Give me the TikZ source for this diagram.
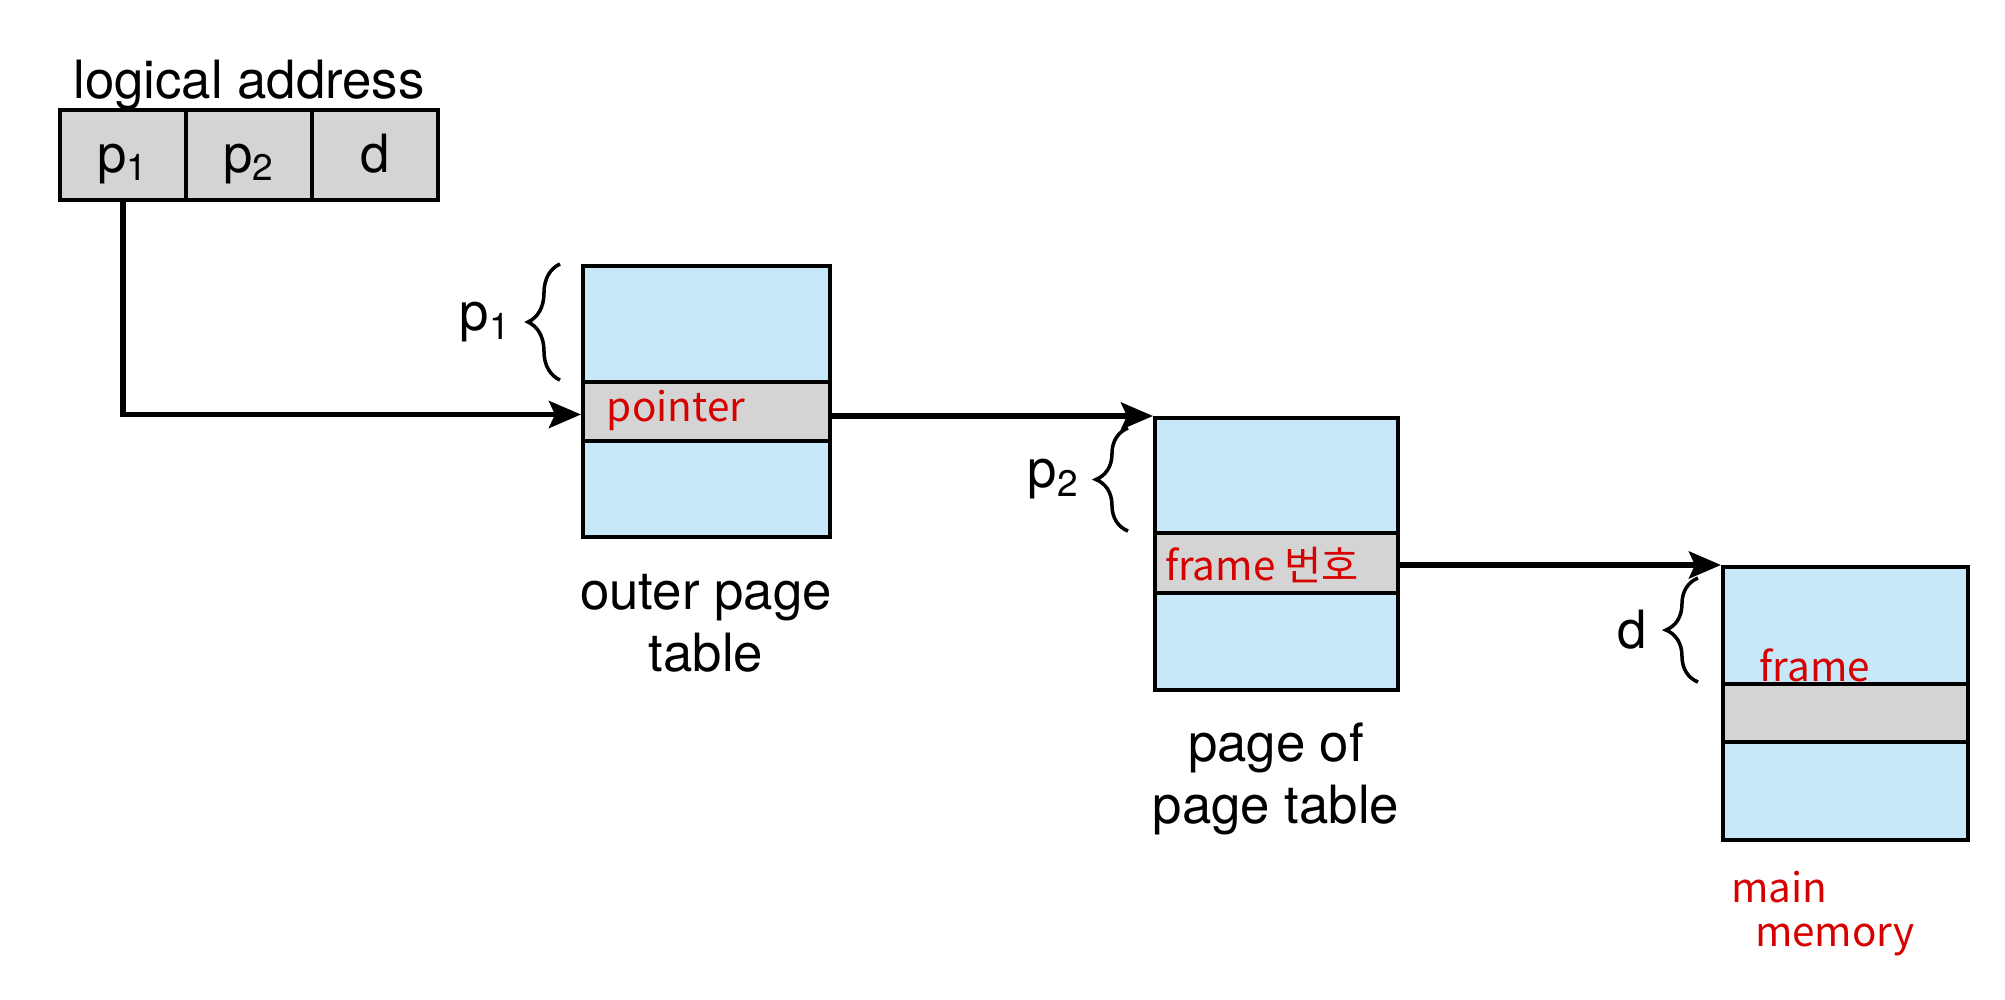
\documentclass[tikz,border=0pt]{standalone}
\usepackage{fontspec}
\setmainfont{TeX Gyre Heros}
\newfontfamily\cjk{Noto Sans CJK KR}
\usetikzlibrary{arrows.meta,positioning,decorations.pathreplacing,calc}
\definecolor{tblue}{RGB}{199,232,248}
\definecolor{tgray}{RGB}{212,212,212}
\definecolor{inkred}{RGB}{215,0,0}

\begin{document}
\begin{tikzpicture}[
  x=0.01cm, y=-0.01cm,
  font=\fontsize{15}{17.6}\selectfont,
  cell/.style={draw, line width=1.1pt, fill=tgray, minimum width=1.26cm, minimum height=0.9cm, inner sep=0pt, text height=0.40cm, text depth=0.06cm},
  pagebox/.style={draw, line width=1.1pt, fill=tblue, minimum width=2.47cm, minimum height=2.71cm, inner sep=0pt},
  entry/.style={draw, line width=1.1pt, fill=tgray, minimum width=2.47cm, minimum height=0.59cm, inner sep=0pt},
  caption/.style={align=center},
  note/.style={text=inkred, font=\cjk\fontsize{11.5}{13}\selectfont},
  bracket/.style={decorate, decoration={brace, amplitude=0.32cm}, line width=1pt},
  arrow/.style={-{Stealth[length=3.2mm,width=2.7mm,inset=0.6mm]}, line width=1.5pt}
]
\useasboundingbox (0,0) rectangle (2005,1000);

% logical address
\node[anchor=base] (logical) at (249,98) {logical address};
\node[cell] (pone) at (123,155) {p\textsubscript{1}};
\node[cell] (ptwo) at (249,155) {p\textsubscript{2}};
\node[cell] (dcell) at (375,155) {d};

% tables
\node[pagebox] (outer) at (706.5,401.5) {};
\node[entry] (ptr) at (706.5,411.5) {};
\node[pagebox, minimum width=2.43cm, minimum height=2.72cm] (ptab) at (1276.5,554) {};
\node[entry, minimum width=2.43cm, minimum height=0.60cm] (frm) at (1276.5,563) {};
\node[pagebox, minimum width=2.45cm, minimum height=2.73cm] (mem) at (1845.5,703.5) {};
\node[entry, minimum width=2.45cm, minimum height=0.58cm] (slot) at (1845.5,713) {};

\node[caption] (outercap) at (706,623) {outer page\\table};
\node[caption] (ptabcap) at (1276,779) {page of\\page table};

% offsets
\draw[bracket] ([xshift=-0.21cm]ptr.north west) -- ([xshift=-0.21cm]outer.north west)
  node[midway, left=0.35cm] (plabel) {p\textsubscript{1}};
\draw[bracket] ([xshift=-0.25cm]frm.north west) -- ([xshift=-0.25cm,yshift=-0.12cm]ptab.north west)
  node[midway, left=0.35cm] (qlabel) {p\textsubscript{2}};
\draw[bracket] ([xshift=-0.23cm]slot.north west) -- ([xshift=-0.23cm,yshift=-0.13cm]mem.north west)
  node[midway, left=0.38cm] (dlabel) {d};

% connectors
\draw[arrow] (pone.south) |- ([yshift=-0.03cm]ptr.west);
\draw[arrow] (ptr.east |- ptab.north west) -- (ptab.north west);
\draw[arrow] (frm.east |- mem.north west) -- (mem.north west);

% handwritten notes
\node[note] (pnote) at (676,410) {pointer};
\node[note] (fnote) at (1262,565) {frame 번호};
\node[note] (mnote) at (1815,665) {frame};
\node[note] (mainnote) at (1779,887) {main};
\node[note] (memnote) at (1835,940) {memory};
\end{tikzpicture}
\end{document}
